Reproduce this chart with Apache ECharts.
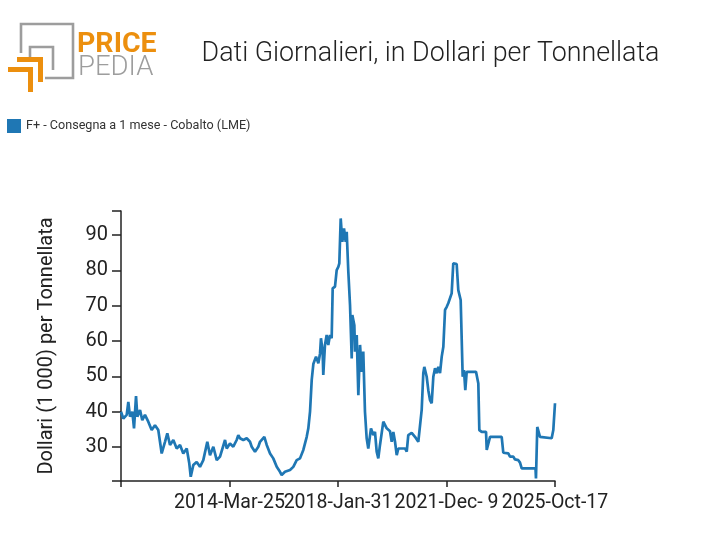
<!DOCTYPE html>
<html>
<head>
<meta charset="utf-8">
<script src="https://cdn.jsdelivr.net/npm/echarts@6/dist/echarts.min.js"></script>
<style>
html,body{margin:0;padding:0;background:#fff;}
#chart{width:712px;height:555px;}
</style>
</head>
<body>
<div id="chart"></div>
<script>
// ---- data ----
const seriesName = 'F+ - Consegna a 1 mese - Cobalto (LME)';
const dates = [
 '2010-05-17','2010-06-16','2010-07-30','2010-08-20','2010-09-11','2010-10-11','2010-11-02','2010-11-28','2010-12-15',
 '2011-01-19','2011-02-17','2011-03-24','2011-05-06','2011-06-19','2011-08-01','2011-09-13','2011-10-05','2011-10-27','2011-12-09',
 '2012-01-08','2012-02-12','2012-03-26','2012-05-09','2012-06-21','2012-08-02','2012-09-16','2012-10-19','2012-11-07','2012-12-10',
 '2013-01-23','2013-03-07','2013-04-19','2013-06-10','2013-07-15','2013-08-27','2013-10-10','2013-11-22',
 '2014-01-26','2014-02-17','2014-03-31','2014-05-13','2014-06-26','2014-07-17','2014-08-08','2014-09-20','2014-11-03','2014-12-16',
 '2015-01-07','2015-02-19','2015-04-03','2015-04-25','2015-05-17','2015-06-20','2015-07-21','2015-09-02','2015-10-14','2015-11-28',
 '2016-01-09','2016-01-31','2016-03-14','2016-05-18','2016-06-30','2016-08-13','2016-09-25','2016-11-07','2016-12-21',
 '2017-01-11','2017-02-02','2017-02-24','2017-03-17','2017-04-21','2017-05-21','2017-06-12','2017-06-24','2017-07-16','2017-07-24',
 '2017-08-15','2017-09-06','2017-09-27','2017-10-19','2017-11-10','2017-11-23','2017-12-23',
 '2018-01-14','2018-02-04','2018-02-17','2018-03-07','2018-03-28','2018-04-19','2018-05-11','2018-05-24','2018-06-14','2018-07-06',
 '2018-07-28','2018-08-05','2018-08-31','2018-09-09','2018-10-01','2018-10-22','2018-11-13','2018-12-05','2018-12-25',
 '2019-01-16','2019-02-07','2019-02-28','2019-04-04','2019-05-04','2019-05-26','2019-06-17','2019-07-08','2019-07-30','2019-09-11',
 '2019-10-25','2019-12-07','2019-12-29',
 '2020-01-19','2020-02-10','2020-03-03','2020-03-24','2020-06-19','2020-07-11','2020-07-31','2020-09-13','2020-10-26','2020-12-08','2020-12-30',
 '2021-01-21','2021-02-11','2021-02-24','2021-03-27','2021-04-17','2021-05-09','2021-05-31','2021-06-21','2021-07-13','2021-08-04',
 '2021-08-25','2021-09-16','2021-10-08','2021-10-29','2021-11-20','2021-12-12',
 '2022-01-01','2022-01-23','2022-02-14','2022-03-07','2022-04-20','2022-05-11','2022-06-11','2022-07-07','2022-07-24','2022-08-10',
 '2022-08-28','2022-12-27',
 '2023-01-26','2023-02-08','2023-03-11','2023-05-06','2023-05-15','2023-06-05','2023-06-27','2023-11-25','2023-12-16',
 '2024-02-19','2024-03-12','2024-04-24','2024-05-16','2024-06-28','2024-07-20','2024-08-11',
 '2025-01-09','2025-02-06','2025-02-12','2025-03-01','2025-04-05','2025-09-04','2025-09-25','2025-10-17'
];
const values = [
 40.0,38.1,39.1,42.8,38.6,40.0,35.3,44.4,38.6,
 40.5,37.6,39.1,37.2,34.8,36.2,34.8,31.5,28.2,31.5,
 33.9,30.6,32.0,29.6,30.6,28.2,29.6,25.4,21.6,24.9,
 25.8,24.4,26.3,31.5,27.7,30.1,26.3,27.3,
 32.0,29.6,31.0,30.1,32.0,33.4,32.5,32.0,32.5,31.5,
 30.1,28.7,30.1,31.5,31.0,32.9,30.6,28.2,26.8,24.4,
 23.0,22.1,23.0,23.5,24.4,26.3,26.8,29.2,32.9,
 35.3,40.0,49.0,53.5,55.6,53.7,56.5,60.8,57.0,50.4,
 58.9,61.7,58.9,61.7,60.8,74.9,75.4,
 80.1,81.0,82.0,94.7,88.1,91.9,88.1,90.9,79.6,70.2,
 55.1,67.4,64.5,57.0,61.7,44.7,58.9,51.3,57.0,
 40.0,32.5,29.6,35.3,33.4,34.3,28.7,26.8,30.6,37.2,
 35.3,34.5,31.5,
 34.3,31.5,27.7,29.6,29.6,28.7,33.4,34.0,32.9,31.5,32.0,
 40.5,50.9,52.7,49.9,46.1,43.3,42.4,49.9,52.3,50.9,
 52.7,50.9,55.6,58.4,68.8,69.7,
 70.7,70.2,73.5,82.0,81.8,74.4,71.6,49.9,51.8,46.1,
 51.3,51.3,
 48.0,34.8,34.3,34.3,29.2,28.9,32.9,32.9,28.4,
 28.2,27.3,27.3,26.5,26.3,25.6,24.0,
 24.0,24.0,21.1,35.7,32.9,32.5,34.8,42.4
];
const tickDates = ['2010-05-17','2014-03-25','2018-01-31','2021-12-09','2025-10-17'];
const tickLabels = ['','2014-Mar-25','2018-Jan-31','2021-Dec- 9','2025-Oct-17'];
const yTicks = [30,40,50,60,70,80,90];
const yMin = 20.4, yMax = 96.8;
const titleText = 'Dati Giornalieri, in Dollari per Tonnellata';
const yName = 'Dollari (1 000) per Tonnellata';

// ---- build: dates -> days since first tick date ----
function dayNum(s){const p=s.split('-').map(Number);return Date.UTC(p[0],p[1]-1,p[2])/86400000;}
const d0 = dayNum(tickDates[0]);
const tickDays = tickDates.map(s=>dayNum(s)-d0);
const data = dates.map((d,i)=>[dayNum(d)-d0, values[i]]);
const FONT = 'Roboto';
const orange = '#ec8f0e', grey = '#9d9d9d';

const chart = echarts.init(document.getElementById('chart'), null, {renderer:'canvas'});
chart.setOption({
  animation:false,
  backgroundColor:'#fff',
  textStyle:{fontFamily:FONT},
  grid:{left:121,right:157,top:211,bottom:74,containLabel:false},
  legend:{
    left:7, top:119, padding:0, icon:'rect', itemWidth:14, itemHeight:14, itemGap:10,
    textStyle:{fontFamily:FONT,fontSize:12.6,color:'#333'},
    data:[seriesName]
  },
  xAxis:{
    type:'value', min:tickDays[0], max:tickDays[tickDays.length-1], interval:tickDays[1]-tickDays[0],
    splitLine:{show:false},
    axisLine:{lineStyle:{color:'#222',width:1.5}},
    axisTick:{show:true,length:6,lineStyle:{color:'#222',width:1.5}},
    axisLabel:{
      hideOverlap:false, showMinLabel:true, showMaxLabel:true,
      fontFamily:FONT,fontSize:19.5,color:'#222',margin:12,
      formatter:function(v){const i=tickDays.indexOf(Math.round(v));return i>=0?tickLabels[i]:'';}
    }
  },
  yAxis:{
    type:'value', min:yMin, max:yMax,
    name:yName, nameLocation:'middle', nameGap:64, nameRotate:90,
    nameTextStyle:{fontFamily:FONT,fontSize:20,color:'#222'},
    splitLine:{show:false},
    axisLine:{show:true,lineStyle:{color:'#222',width:1.5}},
    axisTick:{show:true,length:9,lineStyle:{color:'#222',width:1.5},customValues:[yMin].concat(yTicks,[yMax])},
    axisLabel:{customValues:yTicks,fontFamily:FONT,fontSize:20,color:'#222',margin:13}
  },
  series:[{
    name:seriesName, type:'line', data:data, showSymbol:false, symbol:'none',
    lineStyle:{color:'#1f77b4',width:2.7}, itemStyle:{color:'#1f77b4'}
  }],
  graphic:[
    {type:'polyline',shape:{points:[[21,53],[21,24],[73,24],[73,78],[45,78]]},style:{stroke:grey,lineWidth:2.6,fill:null}},
    {type:'polyline',shape:{points:[[30,57],[30,47],[53,47],[53,70]]},style:{stroke:grey,lineWidth:2.6,fill:null}},
    {type:'polygon',shape:{points:[[17,57],[43,57],[43,82],[38,82],[38,62],[17,62]]},style:{fill:orange}},
    {type:'polygon',shape:{points:[[8,67],[33,67],[33,92],[28,92],[28,72],[8,72]]},style:{fill:orange}},
    {type:'text',left:77,top:30,style:{text:'PRICE',fill:orange,font:'bold 28.5px Roboto'}},
    {type:'text',left:78,top:54,style:{text:'PEDIA',fill:grey,font:'300 27.5px Roboto'}},
    {type:'text',x:430.5,y:68,style:{text:titleText,fill:'#222',font:'300 26.8px Roboto',textAlign:'center',textVerticalAlign:'bottom'}}
  ]
});
</script>
</body>
</html>
